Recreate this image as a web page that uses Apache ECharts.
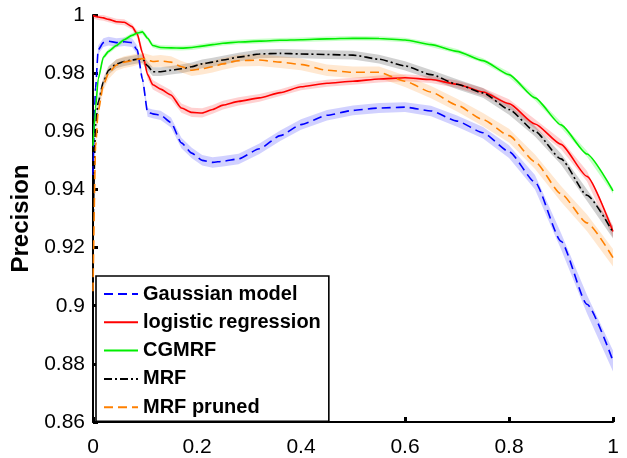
<!DOCTYPE html>
<html>
<head>
<meta charset="utf-8">
<script src="https://cdn.jsdelivr.net/npm/echarts@6/dist/echarts.min.js"></script>
<style>
html,body{margin:0;padding:0;background:#fff;}
#chart{width:627px;height:458px;}
</style>
</head>
<body>
<div id="chart"></div>
<script>
// Recall values (x axis)
var recall = [0, 0.005, 0.01, 0.02, 0.03, 0.045, 0.06, 0.075, 0.085, 0.095, 0.105, 0.115, 0.13, 0.15, 0.17, 0.19, 0.21, 0.23, 0.25, 0.28, 0.32, 0.36, 0.4, 0.45, 0.5, 0.55, 0.6, 0.65, 0.7, 0.75, 0.8, 0.85, 0.9, 0.95, 1];

var seriesNames = ['Gaussian model', 'logistic regression', 'CGMRF', 'MRF', 'MRF pruned'];

// Mean precision per method
var gaussian = [0.945, 0.975, 0.988, 0.9905, 0.991, 0.9905, 0.9908, 0.9905, 0.988, 0.978, 0.9665, 0.966, 0.9655, 0.963, 0.956, 0.9525, 0.950, 0.9493, 0.9497, 0.9505, 0.954, 0.9585, 0.9623, 0.9655, 0.9672, 0.968, 0.9683, 0.967, 0.9635, 0.9595, 0.953, 0.9425, 0.9222, 0.9005, 0.881];
var logistic = [0.9998, 0.9995, 0.9993, 0.999, 0.9985, 0.9977, 0.9975, 0.996, 0.9935, 0.987, 0.9795, 0.976, 0.9745, 0.9725, 0.968, 0.9665, 0.9663, 0.9675, 0.969, 0.9703, 0.9715, 0.9733, 0.9753, 0.9765, 0.9772, 0.978, 0.9784, 0.9778, 0.9762, 0.9735, 0.9695, 0.9625, 0.9555, 0.9445, 0.9255];
var cgmrf = [0.955, 0.968, 0.978, 0.9855, 0.9875, 0.9895, 0.9915, 0.993, 0.9938, 0.9942, 0.992, 0.9895, 0.9888, 0.9887, 0.9886, 0.9888, 0.9893, 0.9898, 0.9903, 0.9907, 0.991, 0.9913, 0.9915, 0.9918, 0.992, 0.9919, 0.9914, 0.9898, 0.9875, 0.9843, 0.9795, 0.9715, 0.9622, 0.9522, 0.9395];
var mrf = [0.925, 0.962, 0.970, 0.977, 0.981, 0.9832, 0.984, 0.9845, 0.9848, 0.985, 0.9825, 0.9805, 0.9805, 0.981, 0.9815, 0.9822, 0.9832, 0.9838, 0.9845, 0.9855, 0.9866, 0.9868, 0.9866, 0.9864, 0.9862, 0.9848, 0.9825, 0.9795, 0.9762, 0.9732, 0.9675, 0.960, 0.9505, 0.938, 0.9252];
var mrfPruned = [0.905, 0.955, 0.967, 0.976, 0.980, 0.9828, 0.9838, 0.9843, 0.9848, 0.985, 0.9845, 0.984, 0.9842, 0.9838, 0.9822, 0.981, 0.9815, 0.9822, 0.9832, 0.9843, 0.9845, 0.9838, 0.983, 0.981, 0.9803, 0.9803, 0.9772, 0.9735, 0.969, 0.964, 0.9585, 0.9495, 0.9385, 0.9285, 0.9165];

// Half-width of the shaded confidence band per method
var gaussianBand = [0.0015, 0.0015, 0.0015, 0.0015, 0.0015, 0.0015, 0.0015, 0.0015, 0.0015, 0.0015, 0.0015, 0.0015, 0.0016, 0.0017, 0.0018, 0.0018, 0.0018, 0.0018, 0.0018, 0.0018, 0.0018, 0.0018, 0.0018, 0.0018, 0.0017, 0.0017, 0.0017, 0.0018, 0.0019, 0.002, 0.0022, 0.0025, 0.0028, 0.0032, 0.0036];
var logisticBand = [0.001, 0.001, 0.001, 0.001, 0.001, 0.001, 0.001, 0.001, 0.0012, 0.0014, 0.0015, 0.0016, 0.0016, 0.0016, 0.0016, 0.0016, 0.0016, 0.0015, 0.0015, 0.0014, 0.0013, 0.0012, 0.0012, 0.0012, 0.0012, 0.0012, 0.0012, 0.0012, 0.0013, 0.0014, 0.0015, 0.0016, 0.0017, 0.0018, 0.002];
var cgmrfBand = [0.0008, 0.0008, 0.0008, 0.0008, 0.0008, 0.0008, 0.0008, 0.0008, 0.0008, 0.0008, 0.0008, 0.0008, 0.0008, 0.0008, 0.0008, 0.0008, 0.0008, 0.0008, 0.0008, 0.0008, 0.0008, 0.0008, 0.0008, 0.0008, 0.0008, 0.0008, 0.0008, 0.0008, 0.0008, 0.0008, 0.0009, 0.0009, 0.001, 0.001, 0.001];
var mrfBand = [0.0015, 0.0015, 0.0015, 0.0015, 0.0015, 0.0015, 0.0015, 0.0015, 0.0015, 0.0015, 0.0015, 0.0015, 0.0015, 0.0015, 0.0015, 0.0015, 0.0015, 0.0015, 0.0015, 0.0015, 0.0015, 0.0015, 0.0015, 0.0015, 0.0015, 0.0015, 0.0016, 0.0016, 0.0017, 0.0017, 0.0018, 0.0018, 0.0019, 0.002, 0.0021];
var mrfPrunedBand = [0.002, 0.002, 0.002, 0.002, 0.002, 0.002, 0.002, 0.002, 0.002, 0.002, 0.002, 0.002, 0.002, 0.002, 0.002, 0.002, 0.002, 0.002, 0.002, 0.002, 0.002, 0.002, 0.002, 0.002, 0.002, 0.002, 0.002, 0.0021, 0.0022, 0.0023, 0.0024, 0.0025, 0.0027, 0.0029, 0.003];

var xTicks = [0, 0.2, 0.4, 0.6, 0.8, 1];
var yTicks = [0.86, 0.88, 0.9, 0.92, 0.94, 0.96, 0.98, 1];

var means = [gaussian, logistic, cgmrf, mrf, mrfPruned];
var bands = [gaussianBand, logisticBand, cgmrfBand, mrfBand, mrfPrunedBand];
var lineColors = ['#0000ff', '#ff0000', '#00ee00', '#000000', '#ff8000'];
var bandColors = ['rgba(0,0,255,0.18)', 'rgba(255,0,0,0.18)', 'rgba(0,255,0,0.22)', 'rgba(0,0,0,0.18)', 'rgba(255,128,0,0.18)'];
var dashTypes = [[9, 5], 'solid', 'solid', [8, 3, 2, 3], [9, 5]];
var FONT = 'Liberation Sans, Arial, Helvetica, sans-serif';

var series = [];
means.forEach(function (m, k) {
  var hw = bands[k];
  series.push({
    name: seriesNames[k] + ' band',
    type: 'custom',
    silent: true,
    z: 1,
    clip: true,
    data: [[recall[0], m[0]]],
    renderItem: function (params, api) {
      var pts = [];
      for (var i = 0; i < recall.length; i++) pts.push(api.coord([recall[i], m[i] + hw[i]]));
      for (var j = recall.length - 1; j >= 0; j--) pts.push(api.coord([recall[j], m[j] - hw[j]]));
      return {
        type: 'polygon',
        shape: { points: pts, smooth: 0 },
        style: { fill: bandColors[k], stroke: null }
      };
    }
  });
});
means.forEach(function (m, k) {
  series.push({
    name: seriesNames[k],
    type: 'line',
    symbol: 'none',
    showSymbol: false,
    smooth: 0.2,
    smoothMonotone: 'x',
    lineStyle: { color: lineColors[k], width: 1.6, type: dashTypes[k] },
    itemStyle: { color: lineColors[k] },
    z: 3,
    data: recall.map(function (x, i) { return [x, m[i]]; })
  });
});

var chart = echarts.init(document.getElementById('chart'), null, { renderer: 'canvas' });
chart.setOption({
  animation: false,
  backgroundColor: '#fff',
  textStyle: { fontFamily: FONT },
  grid: { left: 93, top: 15, width: 520, height: 408, containLabel: false },
  legend: {
    data: seriesNames,
    orient: 'vertical',
    left: 96,
    top: 276,
    padding: [7, 8, 3, 7],
    itemWidth: 34,
    itemHeight: 14,
    itemGap: 6.3,
    backgroundColor: '#fff',
    borderColor: '#000',
    borderWidth: 1.6,
    itemStyle: { opacity: 0 },
    textStyle: { fontFamily: FONT, fontSize: 20, fontWeight: 'bold', color: '#000', lineHeight: 22 },
    z: 10
  },
  xAxis: {
    type: 'value',
    min: xTicks[0],
    max: xTicks[xTicks.length - 1],
    interval: 0.2,
    axisLine: { show: true, lineStyle: { color: '#000', width: 2 } },
    axisTick: { show: true, inside: true, length: 5, lineStyle: { color: '#000', width: 3 } },
    splitLine: { show: false },
    axisLabel: {
      color: '#000', fontSize: 21, fontFamily: FONT, margin: 15,
      formatter: function (v) { return String(+v.toFixed(2)); }
    }
  },
  yAxis: {
    type: 'value',
    min: yTicks[0],
    max: yTicks[yTicks.length - 1],
    interval: 0.02,
    name: 'Precision',
    nameLocation: 'middle',
    nameGap: 53,
    nameRotate: 90,
    nameTextStyle: { color: '#000', fontSize: 24, fontWeight: 'bold', fontFamily: FONT },
    axisLine: { show: true, lineStyle: { color: '#000', width: 2 } },
    axisTick: { show: true, inside: true, length: 5, lineStyle: { color: '#000', width: 3 } },
    splitLine: { show: false },
    axisLabel: {
      color: '#000', fontSize: 21, fontFamily: FONT, margin: 8,
      formatter: function (v) { return String(+v.toFixed(2)); }
    }
  },
  series: series
});
</script>
</body>
</html>
